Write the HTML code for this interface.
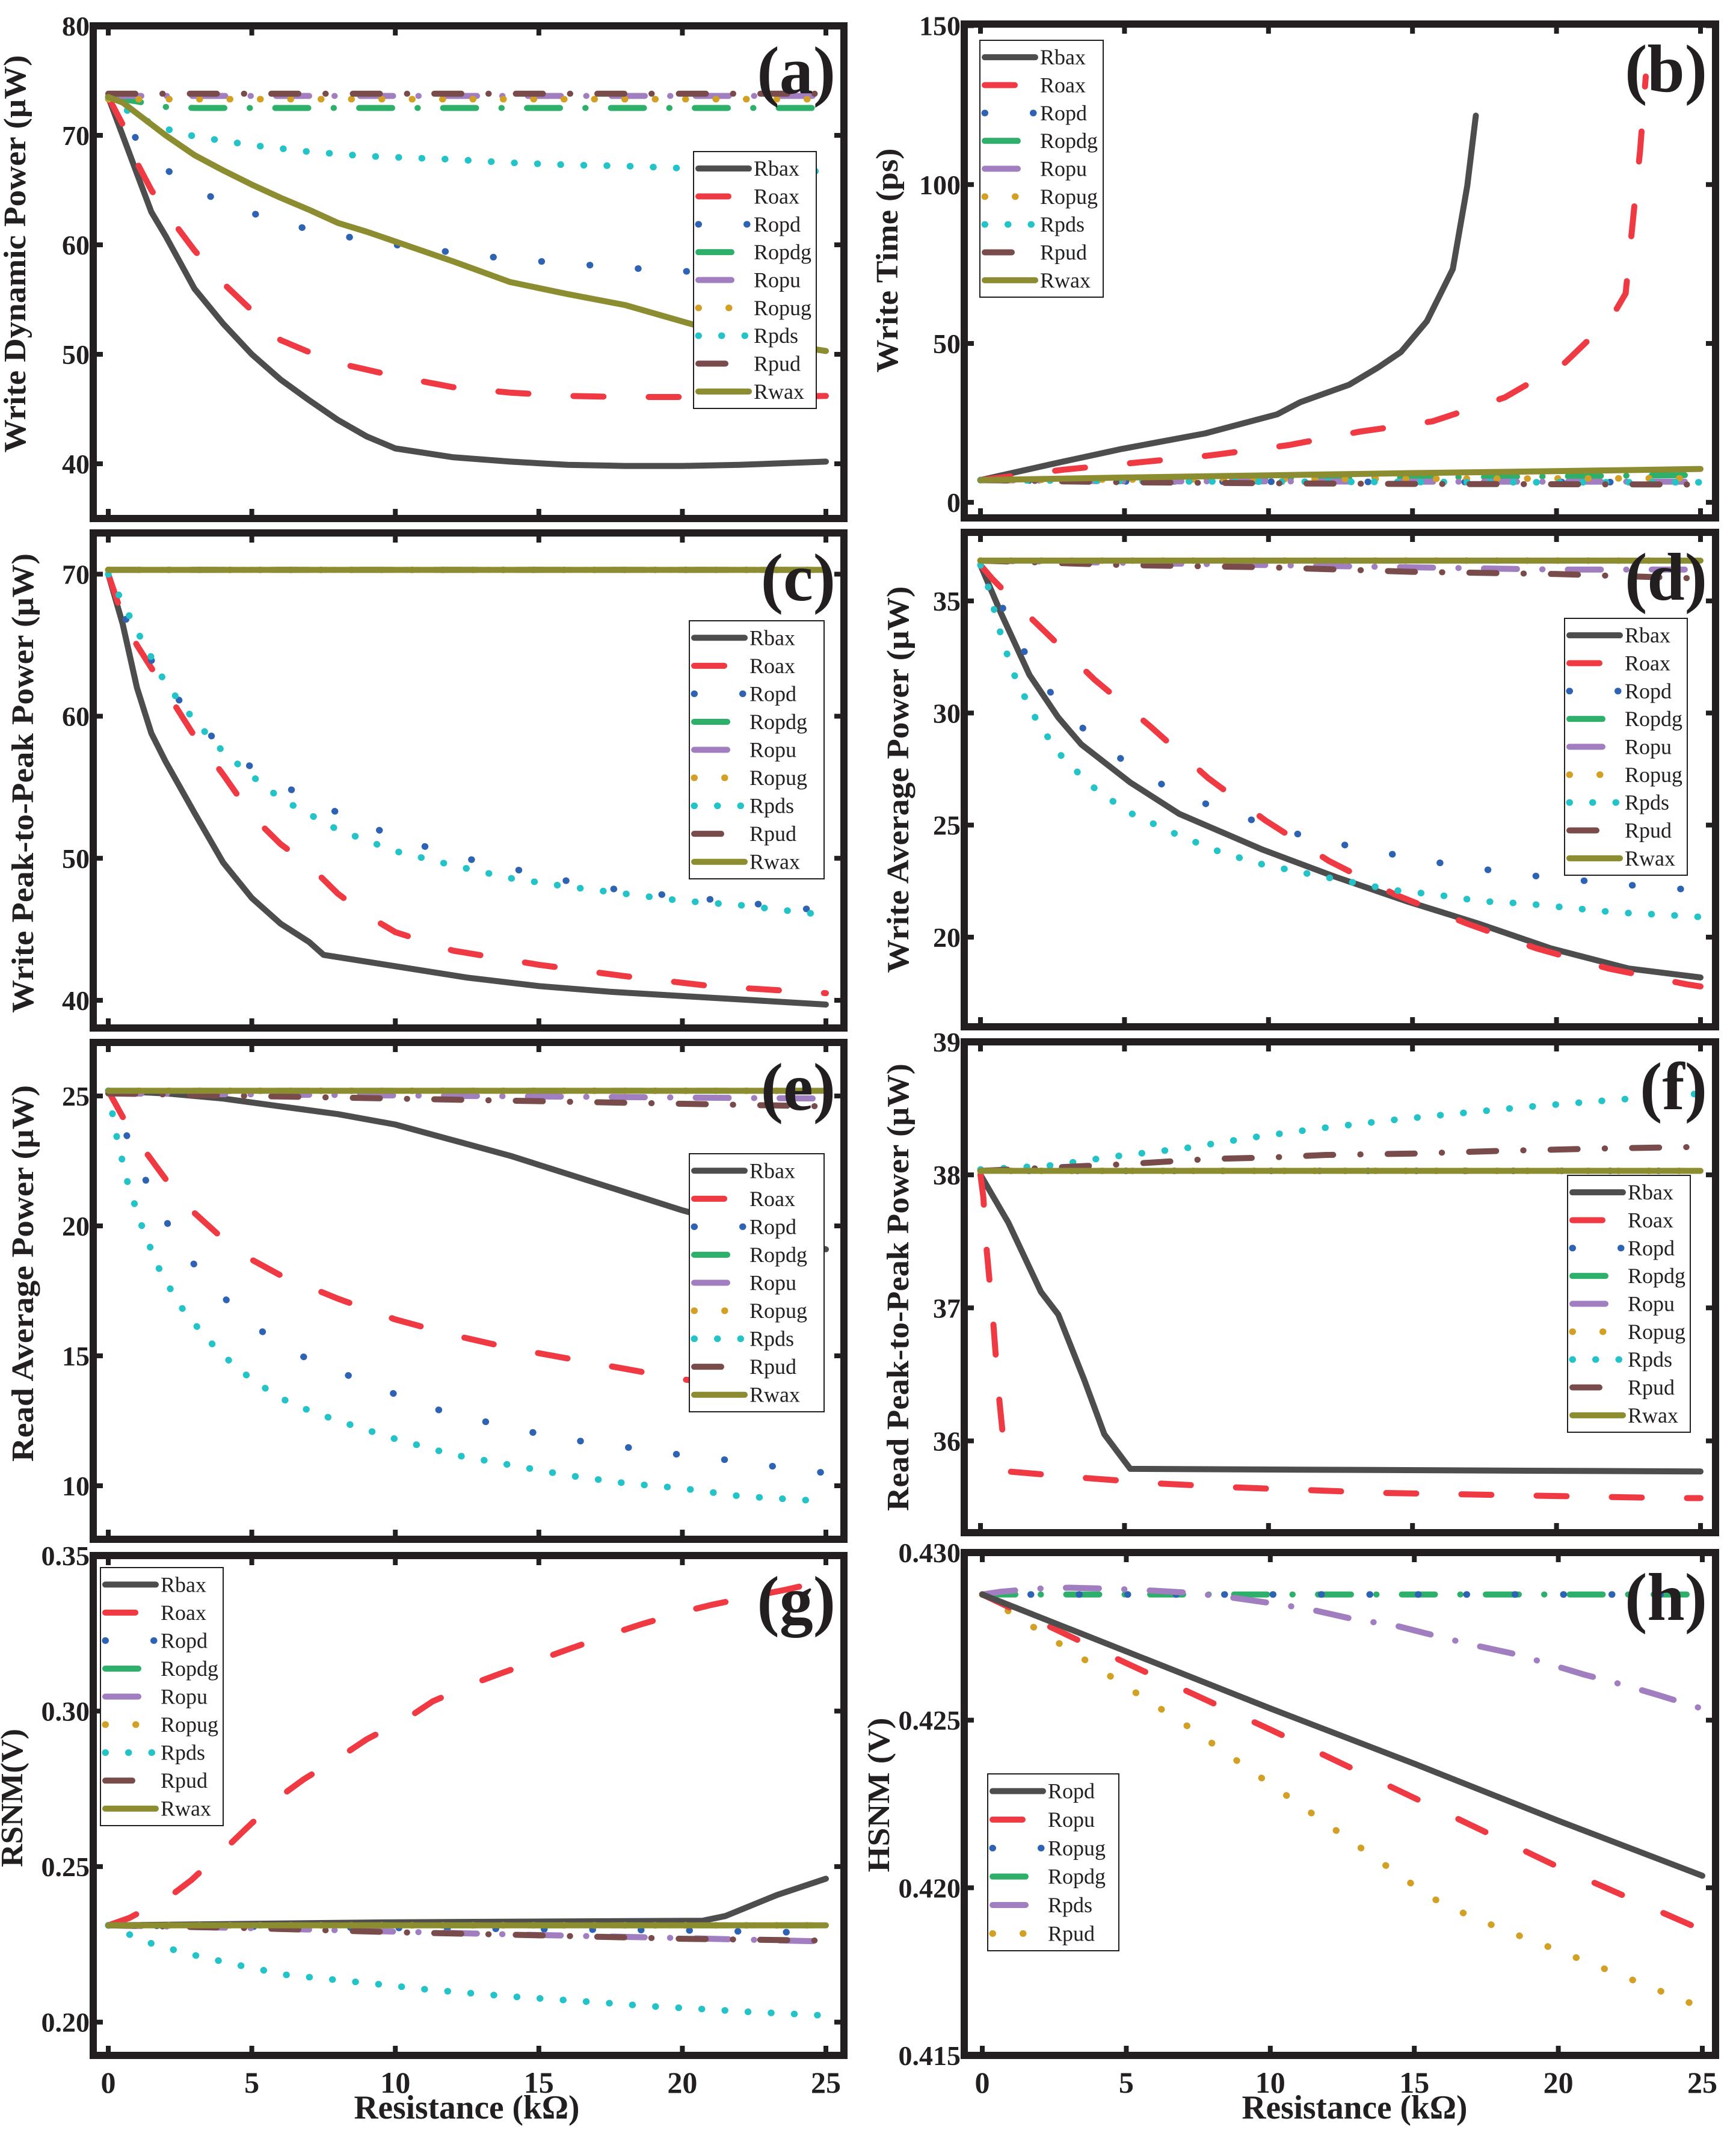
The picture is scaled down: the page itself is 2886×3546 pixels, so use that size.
<!DOCTYPE html>
<html><head><meta charset="utf-8"><title>Resistance sweep charts</title>
<style>
html,body{margin:0;padding:0;background:#fff;}
svg{display:block;font-family:"Liberation Serif",serif;}
</style></head>
<body>
<svg id="fig" width="2886" height="3546" viewBox="0 0 2886 3546" xmlns="http://www.w3.org/2000/svg">
<rect x="0" y="0" width="2886" height="3546" fill="#fff"/>
</svg>
<script>
// ---------- data ----------
const seriesNames = ['Rbax','Roax','Ropd','Ropdg','Ropu','Ropug','Rpds','Rpud','Rwax'];
const hsnmNames = ['Ropd','Ropu','Ropug','Ropdg','Rpds','Rpud'];
const xTicks = [0,5,10,15,20,25];
const xTickLabels = ['0','5','10','15','20','25'];
const flatX = [0,25];

// (a) Write Dynamic Power
const aX = [0,0.5,1,1.5,2,3,4,5,6,7,8,9,10,12,14,16,18,20,22,25];
const aRbax = [73.5,70,66.5,63,60.8,56,52.8,50,47.7,45.8,44,42.5,41.4,40.6,40.2,39.9,39.8,39.8,39.9,40.2];
const aRoax = [73.5,71,67.5,65,63,59.5,56.5,54,51.3,50.2,49.2,48.6,48,47,46.5,46.2,46.1,46.1,46.1,46.2];
const aRopd = [73.5,71.5,69.6,68,66.9,65.2,63.8,62.9,62.1,61.4,60.9,60.4,60,59.3,58.7,58.3,57.9,57.6,57.3,57];
const aRpds = [73.5,72.5,71.8,71.1,70.6,69.9,69.5,69.1,68.8,68.5,68.3,68.1,68,67.8,67.5,67.3,67.2,67.0,66.9,66.7];
const aRwax = [73.5,73,72,71,70,68.2,66.8,65.5,64.3,63.2,62,61.2,60.3,58.5,56.6,55.5,54.5,53,51.5,50.3];
const aRopdgX = [0,1,2,3,25];
const aRopdg = [73.5,73.1,72.6,72.5,72.5];
const aRopu = [73.6,73.6];
const aRopug = [73.3,73.3];
const aRpud = [73.8,73.8];
const aTicks = [40,50,60,70,80];

// (b) Write Time
const bRbaxX = [0,2.7,4.9,7.8,10.3,11.1,12.8,13.8,14.6,15.5,16.4,16.9,17.2];
const bRbax = [7,12.5,16.8,21.7,27.7,31.5,37,42.4,47.3,57,73.4,99.5,121.7];
const bRoaxX = [0,2.9,5.4,7.9,10.7,13.2,15.7,18.2,20.3,21.9,22.4,22.7,22.9,23.1];
const bRoax = [7,10.3,12.5,14.7,18,22.3,25.5,33,44,58,65.7,93,110.5,134];
const bX = [0,5,10,15,20,25];
const bRopd = [7,6.6,6.5,6.4,6.4,6.3];
const bRopdg = [7,7.2,7.5,7.8,8.2,8.6];
const bRopu = [7,6.6,6.6,6.5,6.5,6.5];
const bRopug = [7,7.2,7.3,7.4,7.5,7.6];
const bRpds = [7,6.7,6.5,6.4,6.3,6.3];
const bRpud = [7,6.3,6,5.8,5.7,5.6];
const bRwax = [7,7.8,8.5,9.2,9.8,10.5];
const bTicks = [0,50,100,150];

// (c) Write Peak-to-Peak Power
const cRbaxX = [0,0.5,1,1.5,2,3,4,5,6,7,7.5,10,12.5,15,17.5,20,22.5,25];
const cRbax = [70,66.5,62,58.8,56.8,53.2,49.7,47.2,45.4,44.1,43.2,42.4,41.6,41,40.6,40.3,40,39.7];
const cRoaxX = [0,0.5,1,2,3,4,5,6,7,8,9,10,12,15,18,21,25];
const cRoax = [70,67,65,61.8,58.6,55.9,53,51,49.5,47.5,46,44.8,43.5,42.5,41.7,41,40.5];
const cRopdX = [0,0.5,1,2,3,4,5,6,8,10,12,14,16,18,20,22,25];
const cRopd = [70,67.2,65.6,62.3,59.8,57.8,56.4,55.2,53.2,51.5,50.2,49.3,48.4,47.7,47.3,46.9,46.3];
const cRpdsX = [0,1,2,3,4,5,6,8,10,12,14,16,18,20,22,25];
const cRpds = [70,66,62.3,59.7,57.5,55.8,54.2,52,50.5,49.5,48.6,48,47.5,47,46.7,46];
const cFlat = [70.3,70.3];
const cTicks = [40,50,60,70];

// (d) Write Average Power
const dRbaxX = [0,0.73,1.7,2.7,3.5,5.2,6.9,9.8,12.3,14.8,17.3,19.8,22.5,25];
const dRbax = [36.6,34.4,31.7,29.8,28.6,26.9,25.5,23.9,22.7,21.6,20.6,19.5,18.6,18.2];
const dRoaxX = [0,0.4,1.7,3.95,5.9,7.9,9.9,12.1,14.4,16.9,19.3,21.8,24.5,25];
const dRoax = [36.6,36,34.3,31.5,29.4,27.1,25.2,23.4,21.9,20.6,19.5,18.6,17.9,17.8];
const dRopdX = [0,0.73,1.45,2.25,3.3,4.6,6,7.5,9,10.7,12.3,13.9,15.5,17.1,18.7,20.3,21.9,23.6,25];
const dRopd = [36.6,34.8,32.9,31.2,29.6,28.2,27,26.1,25.4,24.7,24.2,23.8,23.4,23.1,22.8,22.6,22.4,22.2,22.1];
const dRpdsX = [0,0.25,0.64,1.1,1.8,2.65,3.8,5.1,6.6,8.1,9.6,11.1,12.7,14.3,15.8,17.4,18.9,20.5,22.1,23.7,25];
const dRpds = [36.6,35.7,33.8,31.9,30,28.3,26.8,25.6,24.7,23.9,23.3,22.9,22.5,22.1,21.9,21.6,21.5,21.3,21.1,21,20.9];
const dX = [0,5,10,15,20,25];
const dRopu = [36.8,36.7,36.6,36.5,36.4,36.4];
const dRpud = [36.8,36.6,36.5,36.3,36.2,36.0];
const dFlat = [36.8,36.8];
const dTicks = [20,25,30,35];

// (e) Read Average Power
const eRbaxX = [0,2,4,6,8,10,12,14,16,18,20,22,25];
const eRbax = [25.2,25.1,24.9,24.6,24.3,23.9,23.3,22.7,22,21.3,20.6,20,19.1];
const eRoaxX = [0,0.5,1,2,3,4,5,6,8,10,12,14,16,18,20,22,25];
const eRoax = [25.2,24.2,23.3,21.8,20.5,19.5,18.7,18.1,17.2,16.4,15.8,15.3,14.9,14.5,14.1,13.8,13.3];
const eRopdX = [0,0.6,1.2,1.9,2.7,3.7,4.9,6.3,8,9.4,10.9,12.6,14.2,15.8,17.4,19.1,20.7,22.3,24,25];
const eRopd = [25.2,23.6,22,20.4,18.9,17.6,16.3,15.2,14.4,13.8,13.1,12.6,12.2,11.8,11.6,11.3,11.1,10.9,10.6,10.5];
const eRpdsX = [0,0.28,0.64,1.1,1.7,2.45,3.4,4.5,5.8,6.5,8,10,12,14,16,18,20,22,25];
const eRpds = [25.2,23.5,21.8,20.2,18.5,17,15.7,14.5,13.5,13.1,12.5,11.8,11.2,10.8,10.4,10.1,9.9,9.6,9.4];
const eRopu = [25.1,24.9];
const eRpud = [25.1,24.6];
const eFlat = [25.2,25.2];
const eTicks = [10,15,20,25];

// (f) Read Peak-to-Peak Power
const fRbaxX = [0,0.97,2.1,2.7,3.6,4.3,5.2,25];
const fRbax = [38,37.64,37.12,36.95,36.46,36.05,35.79,35.77];
const fRoaxX = [0,0.1,0.2,0.43,0.62,0.87,0.97,3.7,6.2,8.9,11.4,13.8,16.4,18.9,21.4,24.1,25];
const fRoax = [38,37.83,37.47,36.93,36.38,35.84,35.77,35.72,35.68,35.65,35.63,35.61,35.6,35.59,35.58,35.57,35.57];
const fRpdsX = [0,2.4,4.7,7.1,9.4,11.8,14.2,16.5,18.9,21.2,23.6,25];
const fRpds = [38.04,38.07,38.14,38.2,38.28,38.35,38.41,38.46,38.51,38.55,38.59,38.61];
const fRpudX = [0,2,5,8,10,12,15,18,20,22,25];
const fRpud = [38.03,38.05,38.08,38.12,38.13,38.15,38.16,38.18,38.19,38.2,38.21];
const fFlat = [38.03,38.03];
const fTicks = [36,37,38,39];

// (g) RSNM
const gRoaxX = [0,0.74,2.2,2.9,4.1,4.8,6,6.8,8.2,9,10.5,11.3,12.8,13.7,15.2,16.1,17.8,18.6,20.2,21,22.7,23.6,25];
const gRoax = [0.2311,0.2335,0.2408,0.2457,0.256,0.2622,0.2726,0.278,0.286,0.2909,0.2982,0.3031,0.3091,0.3122,0.3171,0.3201,0.3256,0.328,0.3323,0.3341,0.3374,0.339,0.342];
const gRbaxX = [0,10,20.7,21.5,23.3,25];
const gRbax = [0.2311,0.2321,0.2326,0.2341,0.2409,0.2461];
const gX = [0,5,10,15,20,25];
const gRopd = [0.2311,0.2307,0.2303,0.2299,0.2295,0.2287];
const gRopu = [0.2311,0.2302,0.2291,0.228,0.227,0.2259];
const gRpud = [0.2311,0.2302,0.2289,0.2279,0.2268,0.2262];
const gRpdsX = [0,0.78,1.5,2.3,3.1,4.6,6.2,7.8,9.4,11,12.5,14.1,15.7,17.3,18.9,20.5,22.1,23.7,25];
const gRpds = [0.2311,0.228,0.2253,0.2232,0.2213,0.2182,0.2152,0.2137,0.2122,0.2106,0.2094,0.2082,0.2072,0.2062,0.2051,0.2043,0.2034,0.2027,0.2021];
const gFlat = [0.2311,0.2311];
const gTicks = [0.20,0.25,0.30,0.35];
const gTickLabels = ['0.20','0.25','0.30','0.35'];

// (h) HSNM
const hX = [0,5,10,15,20,25];
const hRopd = [0.42875,0.42705,0.42535,0.4237,0.422,0.42036];
const hRopu = [0.42875,0.4267,0.42472,0.42268,0.42062,0.41874];
const hRpdsX = [0,0.64,1.8,3,4.5,6,7.2,8.8,10.2,11.4,12.8,14.4,15.4,16.9,18.4,19.5,20.9,22.4,23.5,25];
const hRpds = [0.42875,0.42883,0.42892,0.42895,0.42892,0.42886,0.4288,0.42864,0.42847,0.4283,0.42803,0.42781,0.42759,0.42727,0.42699,0.42672,0.42636,0.42602,0.42574,0.42534];
const hRpudX = [0,3.6,7.2,10.7,14.2,15.1,16,18,20,22,25];
const hRpud = [0.42875,0.42678,0.42478,0.42267,0.42055,0.42,0.4195,0.41878,0.41813,0.41745,0.41642];
const hFlat = [0.42875,0.42875];
const hTicks = [0.415,0.420,0.425,0.430];
const hTickLabels = ['0.415','0.420','0.425','0.430'];

// ---------- styles ----------
const STY = {
  Rbax:{c:'#4d4d4d',d:null,w:10},
  Roax:{c:'#ef3a44',d:'50 75',w:10},
  Ropd:{c:'#2e63b3',d:'0.5 80',w:11},
  Ropdg:{c:'#2fb06a',d:'55 42 0.5 42',w:10},
  Ropu:{c:'#a07ec0',d:'55 42 0.5 42',w:10},
  Ropug:{c:'#d2a024',d:'0.5 50',w:11},
  Rpds:{c:'#24c3c8',d:'0.5 38',w:11},
  Rpud:{c:'#7a4b4b',d:'45 45 0.5 45',w:10},
  Rwax:{c:'#8c8c30',d:null,w:10}
};
const HSTY = {
  Ropd:STY.Rbax, Ropu:STY.Roax, Ropug:STY.Ropd, Ropdg:STY.Ropdg, Rpds:STY.Ropu, Rpud:STY.Ropug
};

const svg = document.getElementById('fig');
const NS = 'http://www.w3.org/2000/svg';
function mk(tag, attrs, parent){
  const e = document.createElementNS(NS, tag);
  for (const k in attrs) e.setAttribute(k, attrs[k]);
  (parent||svg).appendChild(e);
  return e;
}

function drawPanel(p){
  const g = mk('g', {});
  
  
  const [L,T,R,B] = p.box;
  const sx = v => p.x0 + (v/25)*(p.x25 - p.x0);
  const sy = v => T + (p.ymax - v)/(p.ymax - p.ymin)*(B - T);
  const clip = mk('clipPath', {id:'clip-'+p.id}, g);
  mk('rect', {x:L, y:T, width:R-L, height:B-T}, clip);
  const plot = mk('g', {'clip-path':'url(#clip-'+p.id+')'}, g);
  
  
  // series
  p.series.forEach(s => {
    const st = p.styles[s.name];
    const pts = s.x.map((xv,i)=> sx(xv).toFixed(1)+','+sy(s.y[i]).toFixed(1)).join(' ');
    const ln = mk('polyline', {points:pts, fill:'none', stroke:st.c, 'stroke-width':st.w, 'stroke-linecap':'round', 'stroke-linejoin':'round'}, plot);
    if (st.d) ln.setAttribute('stroke-dasharray', st.d);
    
    
  });
  // frame
  const fr = mk('rect', {x:L, y:T, width:R-L, height:B-T, fill:'none', stroke:'#231f20', 'stroke-width':12}, g);
  
  
  // x ticks
  xTicks.forEach((t,i) => {
    const X = sx(t);
    const tk1 = mk('line', {x1:X, y1:T, x2:X, y2:T+16, stroke:'#231f20', 'stroke-width':8}, g);
    
    
    const tk2 = mk('line', {x1:X, y1:B, x2:X, y2:B-16, stroke:'#231f20', 'stroke-width':8}, g);
    
    
    if (p.xlabels){
      const tl = mk('text', {x:X, y:B+62, 'text-anchor':'middle', 'font-size':50, 'font-weight':'bold', fill:'#231f20'}, g);
      tl.textContent = xTickLabels[i];
      
      
    }
  });
  // y ticks
  p.ticks.forEach((t,i) => {
    const Y = sy(t);
    const tk1 = mk('line', {x1:L, y1:Y, x2:L+16, y2:Y, stroke:'#231f20', 'stroke-width':8}, g);
    
    
    const tk2 = mk('line', {x1:R, y1:Y, x2:R-16, y2:Y, stroke:'#231f20', 'stroke-width':8}, g);
    
    
    const tl = mk('text', {x:L-6, y:Y+16, 'text-anchor':'end', 'font-size':46, 'font-weight':'bold', fill:'#231f20'}, g);
    tl.textContent = p.tickLabels ? p.tickLabels[i] : String(t);
    
    
  });
  // y title
  const yt = mk('text', {x:0, y:0, 'text-anchor':'middle', 'font-size':52, 'font-weight':'bold', fill:'#231f20',
    transform:'translate('+(p.titleX+18)+','+p.titleY+') rotate(-90)', textLength:p.titleLen, lengthAdjust:'spacingAndGlyphs'}, g);
  yt.textContent = p.title;
  
  
  // panel label
  const pl = mk('text', {x:R-14, y:T+112, 'text-anchor':'end', 'font-size':112, 'font-weight':'bold', fill:'#231f20'}, g);
  pl.textContent = '(' + p.id + ')';
  
  
  // legend
  const lg = p.legend;
  const lgG = mk('g', {}, g);
  
  
  const n = lg.names.length;
  const h = lg.h;
  const lr = mk('rect', {x:lg.x, y:lg.y, width:lg.w, height:h, fill:'#fff', stroke:'#231f20', 'stroke-width':2}, lgG);
  
  
  const step = (h - 10) / n;
  lg.names.forEach((nm,i) => {
    const st = p.styles[nm];
    const cy = lg.y + 5 + step*(i+0.5);
    const ln = mk('line', {x1:lg.x+8, y1:cy, x2:lg.x+92, y2:cy, stroke:st.c, 'stroke-width':st.w, 'stroke-linecap':'round'}, lgG);
    if (st.d) ln.setAttribute('stroke-dasharray', st.d);
    
    
    const tx = mk('text', {x:lg.x+100, y:cy+12, 'font-size':36, fill:'#231f20'}, lgG);
    tx.textContent = nm;
    
    
  });
}

function S(name, x, y){ return {name:name, x:x, y:y}; }

const LEFT = [155, 1403], RIGHT = [1603, 2852];
const panels = [
 {id:'a', box:[LEFT[0],43,LEFT[1],862], x0:180, x25:1373, ymin:35, ymax:80, ticks:aTicks,
  title:'Write Dynamic Power (\u03bcW)', titleX:24, titleY:422, titleLen:661, styles:STY,
  legend:{x:1153,y:252,w:204,h:427,names:seriesNames},
  series:[S('Rbax',aX,aRbax),S('Roax',aX,aRoax),S('Ropd',aX,aRopd),S('Ropdg',aRopdgX,aRopdg),S('Ropu',flatX,aRopu),
          S('Ropug',flatX,aRopug),S('Rpds',aX,aRpds),S('Rpud',flatX,aRpud),S('Rwax',aX,aRwax)]},
 {id:'b', box:[RIGHT[0],40,RIGHT[1],861], x0:1630, x25:2827, ymin:-4.9, ymax:150.5, ticks:bTicks,
  title:'Write Time (ps)', titleX:1474, titleY:433, titleLen:373, styles:STY,
  legend:{x:1629,y:67,w:205,h:427,names:seriesNames},
  series:[S('Rbax',bRbaxX,bRbax),S('Roax',bRoaxX,bRoax),S('Ropd',bX,bRopd),S('Ropdg',bX,bRopdg),S('Ropu',bX,bRopu),
          S('Ropug',bX,bRopug),S('Rpds',bX,bRpds),S('Rpud',bX,bRpud),S('Rwax',bX,bRwax)]},
 {id:'c', box:[LEFT[0],886,LEFT[1],1709], x0:180, x25:1373, ymin:38.05, ymax:72.9, ticks:cTicks,
  title:'Write Peak-to-Peak Power (\u03bcW)', titleX:37, titleY:1302, titleLen:764, styles:STY,
  legend:{x:1146,y:1032,w:224,h:429,names:seriesNames},
  series:[S('Rbax',cRbaxX,cRbax),S('Roax',cRoaxX,cRoax),S('Ropd',cRopdX,cRopd),S('Ropdg',flatX,cFlat),S('Ropu',flatX,cFlat),
          S('Ropug',flatX,cFlat),S('Rpds',cRpdsX,cRpds),S('Rpud',flatX,cFlat),S('Rwax',flatX,cFlat)]},
 {id:'d', box:[RIGHT[0],885,RIGHT[1],1707], x0:1630, x25:2827, ymin:16, ymax:38.06, ticks:dTicks,
  title:'Write Average Power (\u03bcW)', titleX:1492, titleY:1296, titleLen:643, styles:STY,
  legend:{x:2601,y:1028,w:204,h:427,names:seriesNames},
  series:[S('Rbax',dRbaxX,dRbax),S('Roax',dRoaxX,dRoax),S('Ropd',dRopdX,dRopd),S('Ropdg',flatX,dFlat),S('Ropu',dX,dRopu),
          S('Ropug',flatX,dFlat),S('Rpds',dRpdsX,dRpds),S('Rpud',dX,dRpud),S('Rwax',flatX,dFlat)]},
 {id:'e', box:[LEFT[0],1733,LEFT[1],2559], x0:180, x25:1373, ymin:7.94, ymax:27.06, ticks:eTicks,
  title:'Read Average Power (\u03bcW)', titleX:37, titleY:2117, titleLen:626, styles:STY,
  legend:{x:1146,y:1918,w:224,h:429,names:seriesNames},
  series:[S('Rbax',eRbaxX,eRbax),S('Roax',eRoaxX,eRoax),S('Ropd',eRopdX,eRopd),S('Ropdg',flatX,eFlat),S('Ropu',flatX,eRopu),
          S('Ropug',flatX,eFlat),S('Rpds',eRpdsX,eRpds),S('Rpud',flatX,eRpud),S('Rwax',flatX,eFlat)]},
 {id:'f', box:[RIGHT[0],1732,RIGHT[1],2548], x0:1630, x25:2827, ymin:35.31, ymax:39, ticks:fTicks,
  title:'Read Peak-to-Peak Power (\u03bcW)', titleX:1492, titleY:2140, titleLen:744, styles:STY,
  legend:{x:2606,y:1954,w:204,h:427,names:seriesNames},
  series:[S('Rbax',fRbaxX,fRbax),S('Roax',fRoaxX,fRoax),S('Ropd',flatX,fFlat),S('Ropdg',flatX,fFlat),S('Ropu',flatX,fFlat),
          S('Ropug',flatX,fFlat),S('Rpds',fRpdsX,fRpds),S('Rpud',fRpudX,fRpud),S('Rwax',flatX,fFlat)]},
 {id:'g', box:[LEFT[0],2586,LEFT[1],3417], x0:180, x25:1373, ymin:0.1893, ymax:0.35, ticks:gTicks, tickLabels:gTickLabels, xlabels:true,
  title:'RSNM(V)', titleX:19, titleY:2989, titleLen:230, styles:STY,
  legend:{x:167,y:2606,w:204,h:429,names:seriesNames},
  series:[S('Rbax',gRbaxX,gRbax),S('Roax',gRoaxX,gRoax),S('Ropd',gX,gRopd),S('Ropdg',flatX,gFlat),S('Ropu',gX,gRopu),
          S('Ropug',flatX,gFlat),S('Rpds',gRpdsX,gRpds),S('Rpud',gX,gRpud),S('Rwax',flatX,gFlat)]},
 {id:'h', box:[RIGHT[0],2581,RIGHT[1],3417], x0:1633, x25:2830, ymin:0.415, ymax:0.430, ticks:hTicks, tickLabels:hTickLabels, xlabels:true,
  title:'HSNM (V)', titleX:1460, titleY:2984, titleLen:257, styles:HSTY,
  legend:{x:1642,y:2949,w:218,h:294,names:hsnmNames},
  series:[S('Ropdg',flatX,hFlat),S('Ropug',flatX,hFlat),S('Rpds',hRpdsX,hRpds),S('Rpud',hRpudX,hRpud),
          S('Ropu',hX,hRopu),S('Ropd',hX,hRopd)]}
];
panels.forEach(drawPanel);

// x-axis titles
[[776,'x-axis-title-left'],[2252,'x-axis-title-right']].forEach(([cx,nm]) => {
  const t = mk('text', {x:cx, y:3522, 'text-anchor':'middle', 'font-size':56, 'font-weight':'bold', fill:'#231f20', textLength:375, lengthAdjust:'spacingAndGlyphs'});
  t.textContent = 'Resistance (k\u03a9)';
  
  
});
</script>
</body></html>
